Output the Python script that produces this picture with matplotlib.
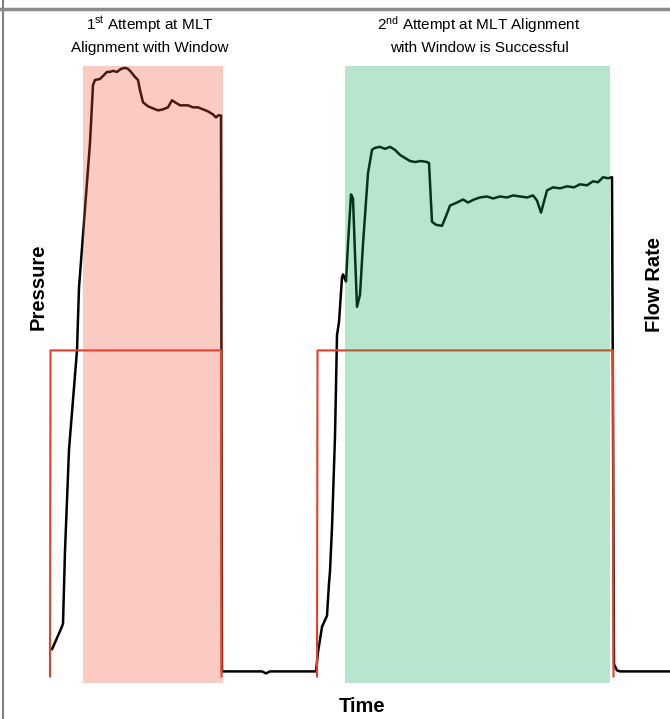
import numpy as np
import matplotlib.pyplot as plt

# time / pressure readings (arbitrary units)
t_press = [49, 50, 58, 60, 62, 66, 74, 76, 87, 90, 92, 97, 100, 104, 107, 110, 114, 118,
           122, 125, 128, 132, 135, 137, 140, 145, 150, 155, 160, 165, 169, 172, 177, 185,
           190, 195, 200, 205, 210, 213, 215, 218, 219, 259, 263, 267, 313,
           315, 319, 324, 326, 327, 329, 332, 334, 336, 339, 340, 343, 345, 348, 350, 352,
           354, 357, 360, 365, 369, 372, 377, 382, 387, 392, 397, 402, 407, 412, 418, 424,
           426, 429, 433, 439, 444, 447, 454, 460, 465, 471, 477, 484, 490, 497, 504, 510,
           517, 524, 530, 534, 538, 544, 550, 557, 564, 571, 577, 584, 590, 595, 600, 605,
           609, 611, 614, 617, 667]
pressure = [33, 35, 53, 58, 130, 230, 328, 390, 533, 590, 595, 596, 599, 603, 603, 604, 603, 606,
            607, 606, 603, 598, 595, 585, 573, 569, 567, 565, 566, 568, 575, 573, 570, 570,
            568, 568, 566, 564, 561, 558, 560, 560, 11, 11, 9, 11, 11,
            30, 55, 66, 98, 110, 153, 243, 343, 356, 400, 403, 396, 433, 482, 478, 423,
            371, 383, 433, 503, 526, 528, 529, 527, 529, 526, 521, 518, 515, 514, 515, 514,
            513, 455, 452, 451, 463, 471, 474, 477, 474, 477, 479, 480, 478, 480, 479, 481,
            480, 479, 481, 476, 464, 486, 489, 488, 490, 489, 492, 491, 495, 494, 499, 498,
            499, 18, 12, 11, 11]

t_flow = [47, 47.5, 218, 218.5, np.nan, 314, 314.5, 610, 610.5]
flow = [6, 328, 328, 6, np.nan, 6, 328, 328, 6]

windows = [(80, 220), (342, 607)]
window_colors = ['#f2523a', '#16ac5f']

plt.rcParams['font.family'] = ['Liberation Sans Narrow', 'Liberation Sans', 'DejaVu Sans']
plt.rcParams['mathtext.fontset'] = 'custom'
plt.rcParams['mathtext.rm'] = 'Liberation Sans'
plt.rcParams['mathtext.default'] = 'regular'

fig = plt.figure(figsize=(6.7, 7.19), dpi=100)
ax = fig.add_axes([0, 0, 1, 1])
ax.set_xlim(-3, 667)
ax.set_ylim(-36, 674)

ax.plot(t_press, pressure, color='black', lw=1.8, zorder=2)
ax.plot(t_flow, flow, color='#ec3d24', lw=1.5, zorder=2)
for (a, b), c in zip(windows, window_colors):
    ax.axvspan(a, b, ymin=36/710, ymax=645/710, color=c, alpha=0.3, lw=0, zorder=3)

ax.set_xticks([])
ax.set_yticks([])
for s in ['right', 'bottom']:
    ax.spines[s].set_visible(False)
ax.spines['left'].set_color('#7f7f7f')
ax.spines['left'].set_linewidth(1.5)
ax.spines['left'].set_position(('data', 0))
ax.spines['top'].set_color('#8a8a8a')
ax.spines['top'].set_linewidth(2.5)
ax.spines['top'].set_position(('data', 674 - 9))

W, H = 670, 719
fig.text(150 / W, 1 - 25 / H, r'1$^{st}$ Attempt at MLT', ha='center', va='center', fontsize=11)
fig.text(150 / W, 1 - 48 / H, 'Alignment with Window', ha='center', va='center', fontsize=11)
fig.text(479 / W, 1 - 25 / H, r'2$^{nd}$ Attempt at MLT Alignment', ha='center', va='center', fontsize=11)
fig.text(479 / W, 1 - 48 / H, 'with Window is Successful', ha='center', va='center', fontsize=11)

bold = dict(fontweight='bold', fontsize=14.5, family=['Liberation Sans', 'DejaVu Sans'])
fig.text(38 / W, 1 - 287 / H, 'Pressure', rotation=90, ha='center', va='center', **bold)
fig.text(655 / W, 1 - 284 / H, 'Flow Rate', rotation=90, ha='center', va='center', **bold)
fig.text(362 / W, 1 - 707 / H, 'Time', ha='center', va='center', **bold)

fig.savefig('out.png', dpi=100)
